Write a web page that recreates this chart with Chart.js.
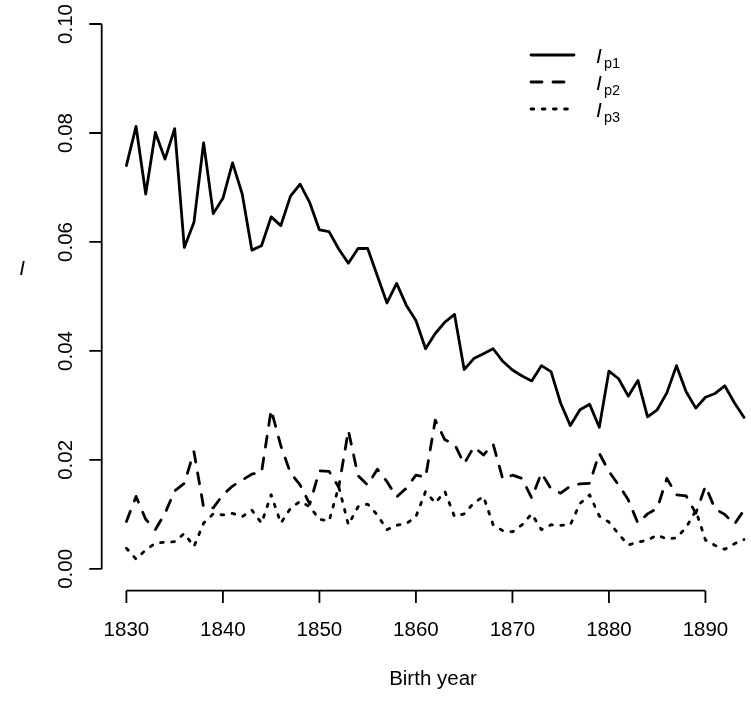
<!DOCTYPE html>
<html><head><meta charset="utf-8">
<script src="https://cdn.jsdelivr.net/npm/chart.js@4.4.1/dist/chart.umd.min.js"></script>
<style>html,body{margin:0;padding:0;background:#fff;}#wrap{width:751px;height:708px;position:relative;}</style>
</head><body><div id="wrap"><canvas id="c" width="751" height="708"></canvas></div>
<script>
const years = [1830,1831,1832,1833,1834,1835,1836,1837,1838,1839,
1840,1841,1842,1843,1844,1845,1846,1847,1848,1849,
1850,1851,1852,1853,1854,1855,1856,1857,1858,1859,
1860,1861,1862,1863,1864,1865,1866,1867,1868,1869,
1870,1871,1872,1873,1874,1875,1876,1877,1878,1879,
1880,1881,1882,1883,1884,1885,1886,1887,1888,1889,
1890,1891,1892,1893,1894];
const ip1 = [0.0740,0.0812,0.0688,0.0801,0.0752,0.0808,0.0590,0.0636,0.0782,0.0652,
0.0680,0.0745,0.0688,0.0585,0.0593,0.0646,0.0630,0.0684,0.0706,0.0672,
0.0622,0.0619,0.0587,0.0561,0.0588,0.0588,0.0538,0.0488,0.0524,0.0484,
0.0456,0.0404,0.0432,0.0453,0.0467,0.0366,0.0386,0.0395,0.0404,0.0381,
0.0365,0.0354,0.0345,0.0373,0.0362,0.0304,0.0263,0.0292,0.0302,0.0260,
0.0363,0.0349,0.0317,0.0346,0.0279,0.0292,0.0323,0.0373,0.0325,0.0295,
0.0315,0.0322,0.0336,0.0305,0.0278];
const ip2 = [0.0087,0.0133,0.0091,0.0072,0.0102,0.0143,0.0157,0.0215,0.0113,0.0112,
0.0136,0.0152,0.0163,0.0174,0.0177,0.0292,0.0226,0.0176,0.0154,0.0119,
0.0180,0.0179,0.0150,0.0254,0.0171,0.0154,0.0183,0.0160,0.0132,0.0148,
0.0172,0.0168,0.0273,0.0237,0.0229,0.0193,0.0224,0.0209,0.0229,0.0165,
0.0172,0.0166,0.0130,0.0176,0.0147,0.0139,0.0152,0.0156,0.0157,0.0212,
0.0179,0.0154,0.0127,0.0084,0.0101,0.0111,0.0166,0.0136,0.0134,0.0102,
0.0152,0.0110,0.0100,0.0082,0.0108];
const ip3 = [0.0038,0.0018,0.0035,0.0047,0.0049,0.0050,0.0065,0.0041,0.0084,0.0101,
0.0099,0.0102,0.0096,0.0108,0.0084,0.0136,0.0084,0.0111,0.0124,0.0114,
0.0091,0.0088,0.0151,0.0081,0.0114,0.0119,0.0099,0.0072,0.0080,0.0083,
0.0096,0.0142,0.0121,0.0142,0.0096,0.0101,0.0121,0.0133,0.0081,0.0070,
0.0068,0.0081,0.0101,0.0072,0.0081,0.0080,0.0081,0.0120,0.0136,0.0097,
0.0086,0.0064,0.0044,0.0049,0.0053,0.0062,0.0055,0.0057,0.0076,0.0107,
0.0053,0.0043,0.0036,0.0046,0.0054];
const xTicks = [1830,1840,1850,1860,1870,1880,1890];
const yTicks = [0,0.02,0.04,0.06,0.08,0.10];
const yTickLabels = ["0.00","0.02","0.04","0.06","0.08","0.10"];
const seriesSubs = ["p1","p2","p3"];
const xTitle = "Birth year";
const yTitle = "I";

const LW = 2.8;
const dashes = [[], [11, 11], [2.8, 8.4]];
const FONT = '"Liberation Sans", Arial, Helvetica, sans-serif';

function pts(arr){ return years.map((yr,i)=>({x:yr, y:arr[i]})); }
const seriesData = [ip1, ip2, ip3];

const rAxes = {
  id: 'rAxes',
  afterDraw(chart){
    const {ctx, chartArea: ca, scales: {x, y}} = chart;
    const TICK = 12.4;
    ctx.save();
    ctx.strokeStyle = '#000'; ctx.fillStyle = '#000';
    ctx.lineWidth = 1.8; ctx.lineCap = 'butt'; ctx.setLineDash([]);
    // x axis
    const yb = ca.bottom;
    ctx.beginPath();
    ctx.moveTo(x.getPixelForValue(xTicks[0]), yb);
    ctx.lineTo(x.getPixelForValue(xTicks[xTicks.length-1]), yb);
    xTicks.forEach(t => { const px = x.getPixelForValue(t); ctx.moveTo(px, yb); ctx.lineTo(px, yb + TICK); });
    ctx.stroke();
    ctx.font = '20.5px ' + FONT;
    ctx.textAlign = 'center'; ctx.textBaseline = 'alphabetic';
    xTicks.forEach(t => ctx.fillText(String(t), x.getPixelForValue(t), 636));
    ctx.fillText(xTitle, 433, 685);
    // y axis
    const xl = ca.left;
    ctx.beginPath();
    ctx.moveTo(xl, y.getPixelForValue(yTicks[0]));
    ctx.lineTo(xl, y.getPixelForValue(yTicks[yTicks.length-1]));
    yTicks.forEach(t => { const py = y.getPixelForValue(t); ctx.moveTo(xl, py); ctx.lineTo(xl - TICK, py); });
    ctx.stroke();
    yTicks.forEach((t, i) => {
      ctx.save();
      ctx.translate(72, y.getPixelForValue(t));
      ctx.rotate(-Math.PI / 2);
      ctx.fillText(yTickLabels[i], 0, 0);
      ctx.restore();
    });
    ctx.font = 'italic 20.5px ' + FONT;
    ctx.textAlign = 'center';
    ctx.fillText(yTitle, 22, 275);
    // legend
    const ly = [55, 82, 109];
    ctx.lineWidth = LW; ctx.lineCap = 'round';
    ly.forEach((yy, i) => {
      ctx.setLineDash(dashes[i]);
      ctx.beginPath(); ctx.moveTo(531, yy); ctx.lineTo(574, yy); ctx.stroke();
      ctx.setLineDash([]);
      ctx.textAlign = 'left'; ctx.textBaseline = 'alphabetic';
      ctx.font = 'italic 21px ' + FONT;
      ctx.fillText('I', 596, yy + 8);
      ctx.font = '14.5px ' + FONT;
      ctx.fillText(seriesSubs[i], 604, yy + 13);
    });
    ctx.restore();
  }
};

new Chart(document.getElementById('c'), {
  type: 'line',
  data: {
    datasets: seriesData.map((arr, i) => ({
      label: 'I' + seriesSubs[i],
      data: pts(arr),
      borderColor: '#000',
      borderWidth: LW,
      borderDash: dashes[i],
      borderCapStyle: 'round',
      borderJoinStyle: 'round',
      pointRadius: 0,
      tension: 0,
      fill: false
    }))
  },
  options: {
    responsive: false,
    animation: false,
    devicePixelRatio: 1,
    layout: { padding: { left: 101.7, top: 2.2, right: 0, bottom: 117.3 } },
    plugins: { legend: { display: false }, tooltip: { enabled: false } },
    scales: {
      x: { type: 'linear', min: 1827.44, max: 1894.72, display: false },
      y: { type: 'linear', min: -0.004, max: 0.104, display: false }
    }
  },
  plugins: [rAxes]
});
</script>
</body></html>
